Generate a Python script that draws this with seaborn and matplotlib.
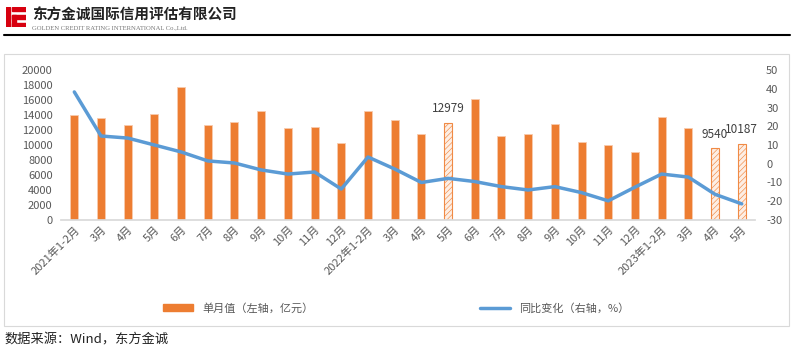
import numpy as np
import pandas as pd
import seaborn as sns
import matplotlib.pyplot as plt
from matplotlib.patches import Rectangle
from matplotlib.lines import Line2D
from matplotlib.patches import Patch

sns.set_theme(style="white")
plt.rcParams['font.family'] = ['Noto Sans CJK SC', 'DejaVu Sans']
plt.rcParams['axes.unicode_minus'] = False
plt.rcParams['hatch.linewidth'] = 0.45

# 数据
months = ["2021年1-2月", "3月", "4月", "5月", "6月", "7月", "8月", "9月", "10月", "11月", "12月",
          "2022年1-2月", "3月", "4月", "5月", "6月", "7月", "8月", "9月", "10月", "11月", "12月",
          "2023年1-2月", "3月", "4月", "5月"]
monthly = [14000, 13600, 12700, 14100, 17800, 12700, 13100, 14500, 12300, 12400, 10300,
           14500, 13300, 11400, 12979, 16200, 11200, 11400, 12800, 10400, 10000, 9100,
           13700, 12300, 9540, 10187]
yoy = [38.3, 14.8, 13.7, 10.0, 6.3, 1.5, 0.4, -3.3, -5.5, -4.4, -13.5,
       3.6, -2.8, -10.0, -7.8, -9.5, -12.2, -14.0, -12.2, -15.4, -19.8, -12.5,
       -5.5, -7.1, -16.3, -21.4]
highlight = [14, 24, 25]  # 带标签的斜线柱

orange = "#ED7D31"
blue = "#5B9BD5"
grey = "#595959"

df = pd.DataFrame({"pos": [str(i) for i in range(len(months))], "value": monthly, "yoy": yoy})

fig = plt.figure(figsize=(7.99, 3.57), dpi=100)
ax = fig.add_axes([0.0763, 0.3838, 0.8687, 0.4201])

sns.barplot(data=df, x="pos", y="value", color=orange, width=0.3, saturation=1,
            edgecolor="#F8CBAD", linewidth=0.6, ax=ax)
for i in highlight:
    p = ax.patches[i]
    p.set_facecolor("#FDEEE4")
    p.set_edgecolor("#F08A45")
    p.set_hatch("//////")
    p.set_linewidth(0.8)
    ax.text(p.get_x() + p.get_width() / 2, monthly[i] + 1000, str(monthly[i]),
            ha="center", va="bottom", fontsize=8.5, color="#404040")

ax.set_ylim(0, 20000)
ax.set_yticks(range(0, 20001, 2000))
ax.set_xlim(-0.5, len(months) - 0.5)
ax.set_xticks(range(len(months)))
ax.set_xticklabels(months, rotation=45, ha="right", rotation_mode="anchor", fontsize=8, color=grey)
ax.tick_params(axis="y", labelsize=8, colors=grey, length=0, pad=6)
ax.tick_params(axis="x", length=0, pad=3)
ax.set_xlabel("")
ax.set_ylabel("")
for s in ["left", "right", "top"]:
    ax.spines[s].set_visible(False)
ax.spines["bottom"].set_color("#d9d9d9")

ax2 = ax.twinx()
sns.lineplot(x=np.arange(len(months)), y=yoy, color=blue, linewidth=2.5, ax=ax2)
ax2.set_ylim(-30, 50)
ax2.set_yticks(range(-30, 51, 10))
ax2.tick_params(axis="y", labelsize=8, colors=grey, length=0, pad=8)
for s in ["left", "right", "top", "bottom"]:
    ax2.spines[s].set_visible(False)
ax2.grid(False)
ax.grid(False)

# 图例
handles = [Patch(facecolor=orange, edgecolor=orange), Line2D([0], [0], color=blue, lw=2.5)]
fig.legend(handles, ["单月值（左轴，亿元）", "同比变化（右轴，%）"], loc="center",
           bbox_to_anchor=(0.496, 0.137), ncol=2, frameon=False, fontsize=8,
           columnspacing=15, handlelength=2.7, labelcolor=grey)

# 图表边框
fig.add_artist(Rectangle((0.005, 0.087), 0.983, 0.762, transform=fig.transFigure,
                         fill=False, edgecolor="#d9d9d9", linewidth=0.8))

# 页眉
fig.add_artist(Line2D([0.005, 0.989], [0.902, 0.902], transform=fig.transFigure,
                      color="black", linewidth=1.5))
logo = fig.add_axes([0.007, 0.925, 0.025, 0.055])
logo.axis("off")
logo.set_xlim(0, 10)
logo.set_ylim(0, 10)
logo.add_patch(Rectangle((0, 0), 2.2, 10, color="#D7000F"))
logo.add_patch(Rectangle((3, 8), 7, 2, color="#D7000F"))
logo.add_patch(Rectangle((3, 4.2), 7, 2, color="#D7000F"))
logo.add_patch(Rectangle((3, 0), 7, 2, color="#D7000F"))
logo.add_patch(Rectangle((3, 0), 2, 6, color="#D7000F"))
fig.text(0.040, 0.958, "东方金诚国际信用评估有限公司", fontsize=10.5, fontweight="bold",
         color="#222222", va="center", ha="left")
fig.text(0.040, 0.921, "GOLDEN CREDIT RATING INTERNATIONAL Co.,Ltd.", fontsize=4.8,
         family="Liberation Serif", color="#777777", va="center", ha="left")

# 数据来源
fig.text(0.006, 0.048, "数据来源：Wind，东方金诚", fontsize=9.5, color="#222222",
         va="center", ha="left")

fig.savefig("out.png", dpi=100)
